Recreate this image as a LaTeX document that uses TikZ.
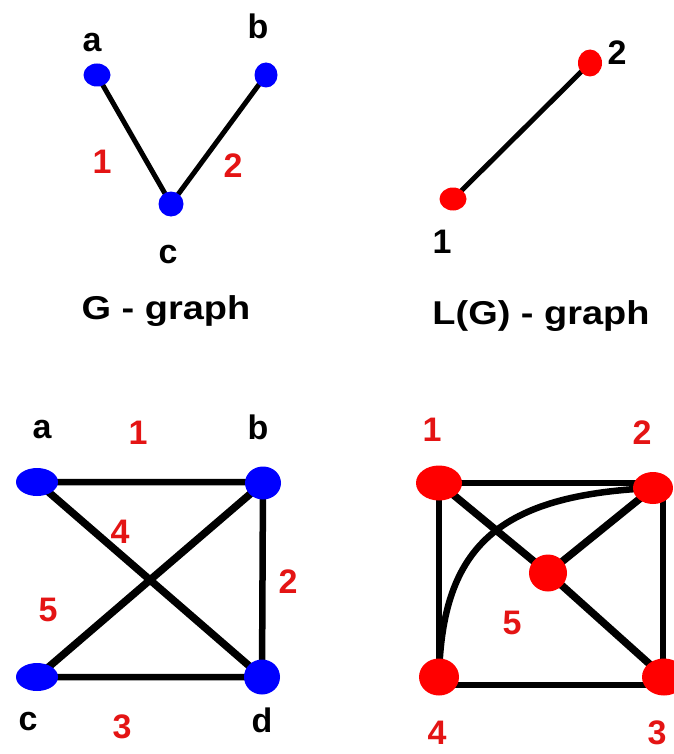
\documentclass[tikz,border=0pt]{standalone}
\usepackage{fontspec}
\usepackage{graphicx}
\setmainfont{Liberation Sans}
\usetikzlibrary{shapes.geometric}
\pgfdeclarelayer{bg}
\pgfsetlayers{bg,main}
\definecolor{gblue}{RGB}{0,0,255}
\definecolor{gred}{RGB}{255,0,0}
\definecolor{tred}{RGB}{228,20,20}
\tikzset{
  bnode/.style={ellipse, fill=gblue, draw=none, inner sep=0pt},
  rnode/.style={ellipse, fill=gred, draw=none, inner sep=0pt},
  edge/.style={line width=5pt, black},
  thick edge/.style={line width=7.5pt, black},
  rect edge/.style={line width=6.5pt, black},
  lbl/.style={font=\fontsize{34}{34}\selectfont\bfseries, text=black, inner sep=0pt},
  rlbl/.style={font=\fontsize{34}{34}\selectfont\bfseries, text=tred, inner sep=0pt},
  title/.style={font=\fontsize{33}{33}\selectfont\bfseries, text=black, inner sep=0pt, anchor=base}
}
\begin{document}
\begin{tikzpicture}[x=1pt,y=-1pt]
\useasboundingbox (0,0) rectangle (673,754);
% ---- G graph (top left)
\node[bnode, minimum width=27pt, minimum height=23pt] (ga) at (97,75) {};
\node[bnode, minimum width=23pt, minimum height=25pt] (gb) at (266,75) {};
\node[bnode, minimum width=25pt, minimum height=25pt] (gc) at (171,204) {};
\begin{pgfonlayer}{bg}
\draw[edge] (ga.center) -- (gc.center) -- (gb.center);
\end{pgfonlayer}
\node[lbl] (la) at (92,43) {a};
\node[lbl] (lb) at (258,26) {b};
\node[lbl] (lc) at (168,255) {c};
\node[rlbl] (e1) at (102,162) {1};
\node[rlbl] (e2) at (233,166) {2};
\node[title] (t1) at (166,319) {\scalebox{1.15}[1]{G - graph}};
% ---- L(G) graph (top right)
\node[rnode, minimum width=24pt, minimum height=27pt] (l2) at (590,63) {};
\node[rnode, minimum width=27pt, minimum height=23pt] (l1) at (453,199) {};
\begin{pgfonlayer}{bg}
\draw[edge] (l1.center) -- (l2.center);
\end{pgfonlayer}
\node[lbl] (ll2) at (617,53) {2};
\node[lbl] (ll1) at (442,242) {1};
\node[title] (t2) at (541,324) {\scalebox{1.15}[1]{L(G) - graph}};
% ---- bottom left graph
\node[bnode, minimum width=42pt, minimum height=28pt] (ba) at (37,482) {};
\node[bnode, minimum width=36pt, minimum height=33pt] (bb) at (263,483) {};
\node[bnode, minimum width=42pt, minimum height=28pt] (bc) at (37,677) {};
\node[bnode, minimum width=36pt, minimum height=35pt] (bd) at (262,677) {};
\begin{pgfonlayer}{bg}
\draw[rect edge] (ba.center) -- (ba.center -| bb.center) -- (bd.center) -- (bc.center);
\draw[thick edge] (ba.center) -- (bd.center);
\draw[thick edge] (bc.center) -- (bb.center);
\end{pgfonlayer}
\node[lbl] (bla) at (42,430) {a};
\node[lbl] (blb) at (258,427) {b};
\node[lbl] (blc) at (28,722) {c};
\node[lbl] (bld) at (262,720) {d};
\node[rlbl] (be1) at (138,433) {1};
\node[rlbl] (be4) at (120,532) {4};
\node[rlbl] (be5) at (48,610) {5};
\node[rlbl] (be2) at (288,582) {2};
\node[rlbl] (be3) at (122,727) {3};
% ---- bottom right graph
\node[rnode, minimum width=46pt, minimum height=35pt] (r1) at (439,483) {};
\node[rnode, minimum width=40pt, minimum height=32pt] (r2) at (653,488) {};
\node[rnode, minimum width=44pt, minimum height=37pt] (r3) at (664,677) {};
\node[rnode, minimum width=40pt, minimum height=37pt] (r4) at (439,677) {};
\node[rnode, minimum width=38pt, minimum height=37pt] (r5) at (548,573) {};
\coordinate (tr) at (663,483);
\coordinate (br) at (663,685);
\coordinate (bl) at (439,685);
\begin{pgfonlayer}{bg}
\draw[rect edge] (r1.center) -- (tr) -- (br) -- (bl) -- (r4.center) -- (r1.center);
\draw[thick edge] (r1.center) -- (r5.center) -- (r3.center);
\draw[thick edge] (r5.center) -- (r2.center);
\draw[rect edge] (r4.center) .. controls (442,545) and (500,495) .. (r2.center);
\end{pgfonlayer}
\node[rlbl] (rl1) at (432,430) {1};
\node[rlbl] (rl2) at (642,433) {2};
\node[rlbl] (rl5) at (512,623) {5};
\node[rlbl] (rl4) at (437,733) {4};
\node[rlbl] (rl3) at (657,733) {3};
\end{tikzpicture}
\end{document}
